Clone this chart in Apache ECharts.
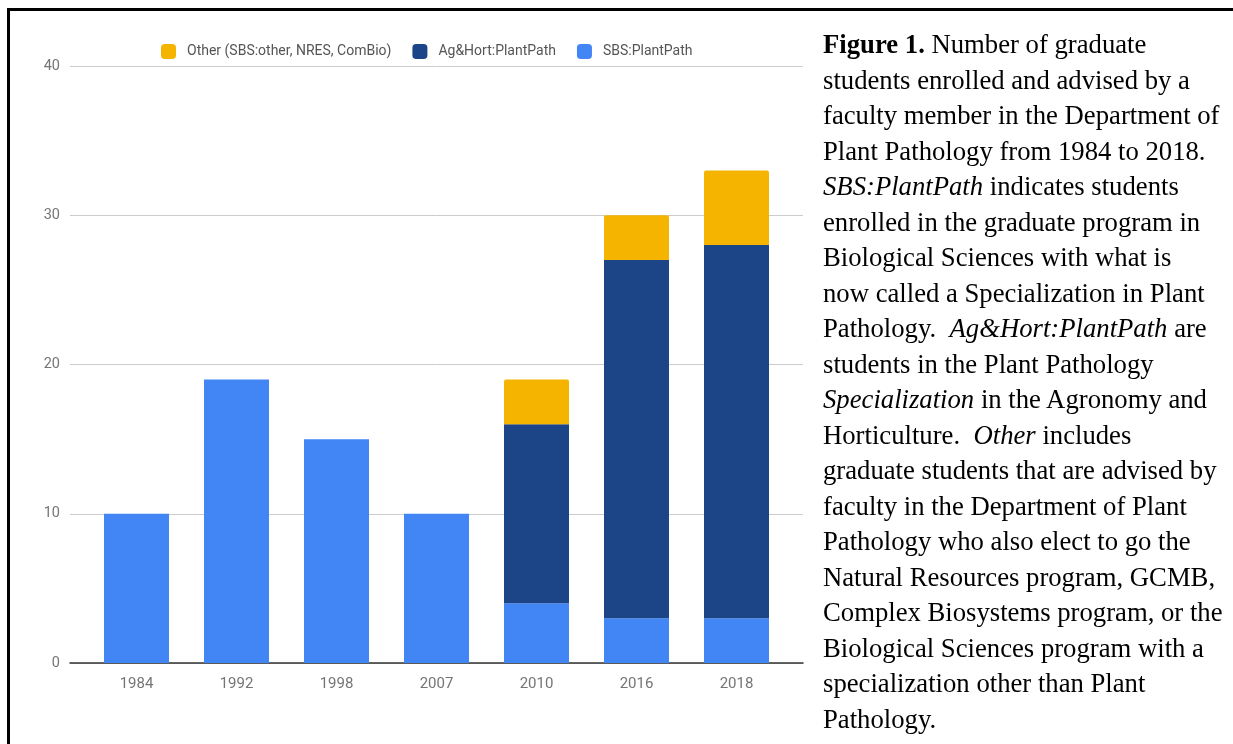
<!DOCTYPE html>
<html>

<head>
    <meta charset="utf-8">
    <title>ECharts</title>
    <script src="https://cdn.jsdelivr.net/npm/echarts@6/dist/echarts.min.js"></script>
    <style>
        html, body { margin: 0; padding: 0; background: #fff; }
        #frame {
            position: absolute; left: 7px; top: 8px; width: 1226px; height: 736px;
            border-top: 3px solid #000; border-left: 3px solid #000;
        }
        #main { position: absolute; left: 0; top: 0; width: 1233px; height: 744px; }
        #caption {
            position: absolute; left: 823px; top: 27px; width: 410px;
            font-family: "Liberation Serif", "Times New Roman", serif;
            font-size: 26.7px; line-height: 35.5px; color: #000; white-space: nowrap;
        }
    </style>
</head>

<body>
    <div id="main"></div>
    <div id="frame"></div>
    <div id="caption">
        <b>Figure 1.</b> Number of graduate<br>
        students enrolled and advised by a<br>
        faculty member in the Department of<br>
        Plant Pathology from 1984 to 2018.<br>
        <i>SBS:PlantPath</i> indicates students<br>
        enrolled in the graduate program in<br>
        Biological Sciences with what is<br>
        now called a Specialization in Plant<br>
        Pathology.&nbsp; <i>Ag&amp;Hort:PlantPath</i> are<br>
        students in the Plant Pathology<br>
        <i>Specialization</i> in the Agronomy and<br>
        Horticulture.&nbsp; <i>Other</i> includes<br>
        graduate students that are advised by<br>
        faculty in the Department of Plant<br>
        Pathology who also elect to go the<br>
        Natural Resources program, GCMB,<br>
        Complex Biosystems program, or the<br>
        Biological Sciences program with a<br>
        specialization other than Plant<br>
        Pathology.
    </div>
    <script type="text/javascript">
        // 数据
        var years = ['1984', '1992', '1998', '2007', '2010', '2016', '2018'];
        var sbsPlantPath = [10, 19, 15, 10, 4, 3, 3];
        var agHortPlantPath = [0, 0, 0, 0, 12, 24, 25];
        var other = [0, 0, 0, 0, 3, 3, 5];

        var myChart = echarts.init(document.getElementById('main'));
        var labelColor = '#757575';
        var font = 'Roboto';

        myChart.setOption({
            animation: false,
            legend: {
                top: 44,
                left: 161,
                padding: 0,
                itemWidth: 15,
                itemHeight: 15,
                itemGap: 21,
                icon: 'roundRect',
                textStyle: { fontFamily: font, fontSize: 14, color: '#555', padding: [0, 0, 0, 6] },
                data: ['Other (SBS:other, NRES, ComBio)', 'Ag&Hort:PlantPath', 'SBS:PlantPath']
            },
            // grid 0: bars, grid 1: wider gridlines + y labels
            grid: [
                { left: 86.5, width: 700, top: 66, height: 597 },
                { left: 70, width: 733, top: 66, height: 597 }
            ],
            xAxis: [{
                type: 'category',
                gridIndex: 0,
                data: years,
                axisLine: { show: false },
                axisTick: { show: false },
                axisLabel: { fontFamily: font, fontSize: 15, color: labelColor, margin: 14 }
            }, {
                type: 'category',
                gridIndex: 1,
                data: [''],
                axisLine: { show: true, lineStyle: { color: '#333', width: 1.5 } },
                axisTick: { show: false },
                axisLabel: { show: false }
            }],
            yAxis: [{
                type: 'value',
                gridIndex: 0,
                min: 0, max: 40, interval: 10,
                show: false
            }, {
                type: 'value',
                gridIndex: 1,
                min: 0, max: 40, interval: 10,
                axisLine: { show: false },
                axisTick: { show: false },
                splitLine: { lineStyle: { color: '#cccccc' } },
                axisLabel: { fontFamily: font, fontSize: 14.5, color: labelColor, margin: 10 }
            }],
            series: [{
                name: 'SBS:PlantPath',
                type: 'bar',
                stack: 'total',
                barWidth: 65,
                itemStyle: { color: '#4285f4' },
                data: sbsPlantPath
            }, {
                name: 'Ag&Hort:PlantPath',
                type: 'bar',
                stack: 'total',
                barWidth: 65,
                itemStyle: { color: '#1c4587' },
                data: agHortPlantPath
            }, {
                name: 'Other (SBS:other, NRES, ComBio)',
                type: 'bar',
                stack: 'total',
                barWidth: 65,
                itemStyle: { color: '#f4b400', borderRadius: [2, 2, 0, 0] },
                data: other
            }]
        });
    </script>
</body>

</html>
